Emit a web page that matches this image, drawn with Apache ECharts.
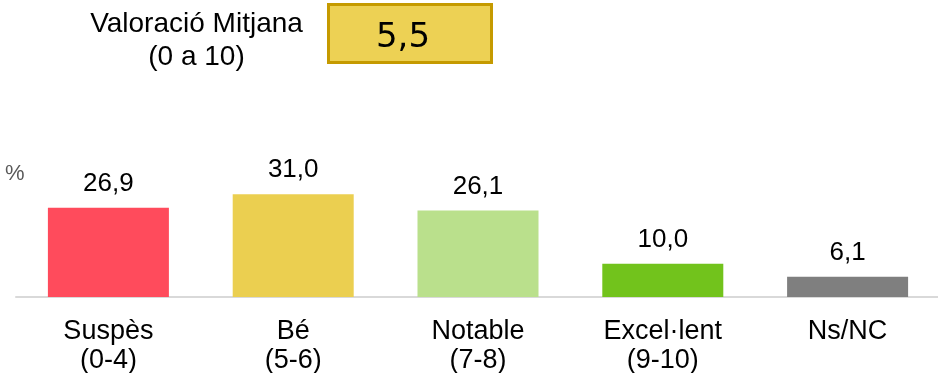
<!DOCTYPE html>
<html>
<head>
<meta charset="utf-8">
<script src="https://cdn.jsdelivr.net/npm/echarts@6/dist/echarts.min.js"></script>
<style>
  html, body { margin: 0; padding: 0; background: #fff; }
  #chart { width: 938px; height: 373px; }
</style>
</head>
<body>
<div id="chart"></div>
<script>
// dades
const categories = ['Suspès\n(0-4)', 'Bé\n(5-6)', 'Notable\n(7-8)', 'Excel·lent\n(9-10)', 'Ns/NC'];
const values = [26.9, 31.0, 26.1, 10.0, 6.1];
const barColors = ['#FF4B5C', '#EBCF50', '#BAE08C', '#72C31C', '#7F7F7F'];
const avgLabel = 'Valoració Mitjana\n(0 a 10)';
const avgValue = '5,5';

const chart = echarts.init(document.getElementById('chart'));

const fmt = v => v.toFixed(1).replace('.', ',');

const option = {
  backgroundColor: '#ffffff',
  animation: false,
  grid: { left: 16, width: 924, top: 181, bottom: 76, outerBoundsMode: 'none' },
  xAxis: {
    type: 'category',
    data: categories,
    axisLine: { lineStyle: { color: '#D9D9D9', width: 2 } },
    axisTick: { show: false },
    axisLabel: {
      color: '#000', fontFamily: 'Liberation Sans, Arial', fontSize: 27,
      lineHeight: 29, margin: 20, interval: 0
    }
  },
  yAxis: { type: 'value', min: 0, max: 35, show: false, splitLine: { show: false } },
  series: [{
    type: 'bar',
    barWidth: 121,
    data: values.map((v, i) => ({ value: v, itemStyle: { color: barColors[i] } })),
    label: {
      show: true, position: 'top', distance: 11,
      color: '#000', fontFamily: 'Liberation Sans, Arial', fontSize: 26,
      formatter: p => fmt(p.value)
    }
  }],
  graphic: [
    {
      type: 'text', left: 5, top: 163,
      style: { text: '%', fill: '#595959', font: '22px "Liberation Sans", Arial' }
    },
    {
      type: 'text', x: 196.5, y: 8,
      style: {
        text: avgLabel, fill: '#000', font: '28px "Liberation Sans", Arial',
        align: 'center', lineHeight: 33
      }
    },
    {
      type: 'rect',
      shape: { x: 328.5, y: 4.5, width: 163, height: 58 },
      style: { fill: '#EDD154', stroke: '#C59A00', lineWidth: 3 }
    },
    {
      type: 'text', x: 403, y: 38,
      style: {
        text: avgValue, fill: '#000', font: '34px "DejaVu Sans"',
        align: 'center', verticalAlign: 'middle'
      }
    }
  ]
};

chart.setOption(option);
</script>
</body>
</html>
